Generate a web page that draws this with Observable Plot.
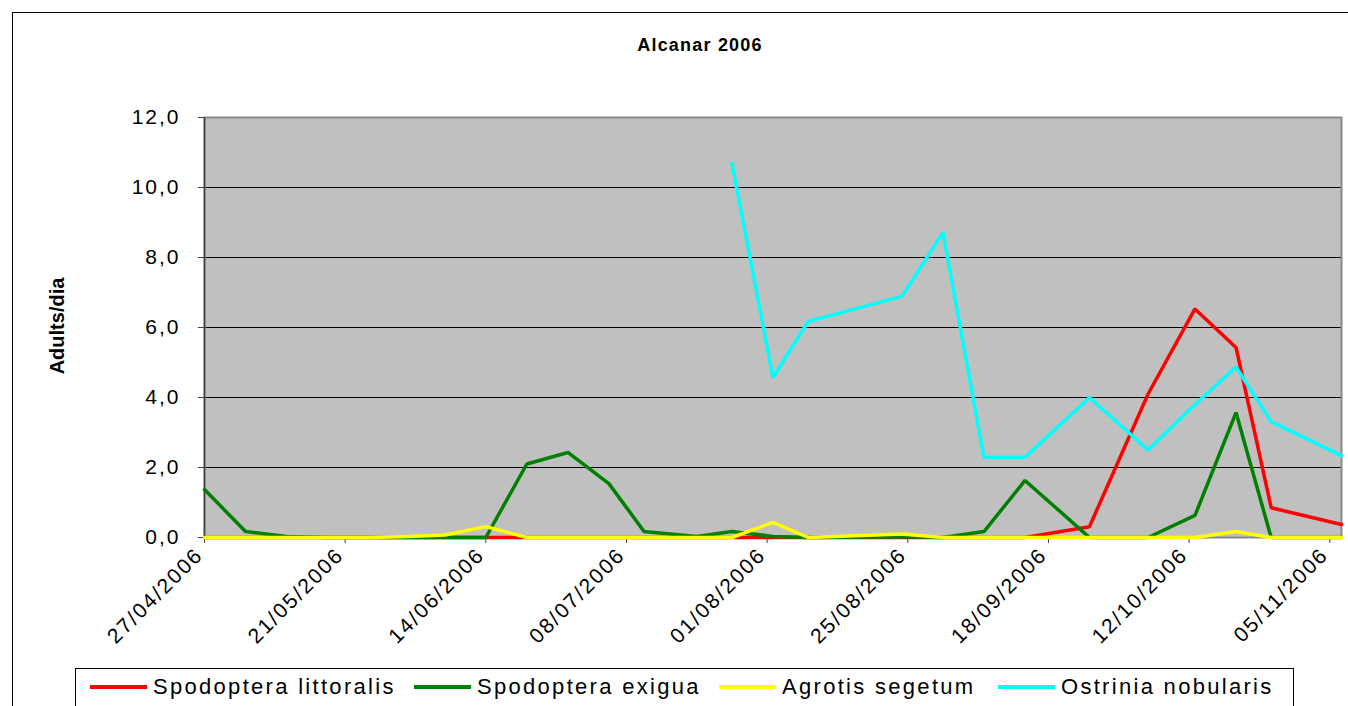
<!DOCTYPE html>
<html><head><meta charset="utf-8">
<script src="https://cdn.jsdelivr.net/npm/d3@7"></script>
<script src="https://cdn.jsdelivr.net/npm/@observablehq/plot@0.6"></script>
<style>
body{margin:0;background:#fff;}
#wrap{position:relative;width:1348px;height:706px;overflow:hidden;font-family:"Liberation Sans",Arial,sans-serif;color:#000;}
#frame{position:absolute;left:12px;top:12px;width:1400px;height:800px;border:1.5px solid #000;}
#title{position:absolute;left:550px;width:300px;top:35px;text-align:center;font-size:18px;font-weight:bold;letter-spacing:1.2px;}
#ylab{position:absolute;left:57px;top:326px;transform:translate(-50%,-50%) rotate(-90deg);font-size:20px;font-weight:bold;white-space:nowrap;}
#chart{position:absolute;left:0;top:0;}
#chart svg text{letter-spacing:2px;}
#legend{position:absolute;left:75px;top:668px;width:1217px;height:80px;border:1px solid #000;background:#fff;}
.item{position:absolute;top:6px;display:flex;align-items:center;height:24px;}
.sw{width:57px;height:4px;margin-right:6px;}
.lt{font-size:22px;letter-spacing:2.3px;white-space:nowrap;}
</style>
</head><body>
<div id="wrap">
  <div id="frame"></div>
  <div id="title">Alcanar 2006</div>
  <div id="chart"></div>
  <div id="ylab">Adults/dia</div>
  <div id="legend"></div>
</div>
<script>
const seriesNames = ["Spodoptera littoralis","Spodoptera exigua","Agrotis segetum","Ostrinia nobularis"];
const seriesColors = ["#FF0000","#008000","#FFFF00","#00FFFF"];
const dates = ["2006-04-27","2006-05-04","2006-05-11","2006-05-18","2006-05-25","2006-06-01","2006-06-07","2006-06-14","2006-06-21","2006-06-28","2006-07-05","2006-07-11","2006-07-20","2006-07-26","2006-08-02","2006-08-08","2006-08-24","2006-08-31","2006-09-07","2006-09-14","2006-09-25","2006-10-05","2006-10-13","2006-10-20","2006-10-26","2006-11-07"];
const littoralis = [0,0,0,0,0,0,0,0,0,0,0,0,0,0,0,0,0,0,0,0,0.31,4.1,6.53,5.43,0.85,0.37];
const exigua = [1.37,0.17,0.03,0,0,0,0,0,2.1,2.43,1.54,0.17,0.03,0.17,0.03,0,0.02,0,0.17,1.63,0,0,0.63,3.57,0,0];
const segetum = [0,0,0,0,0,0.03,0.07,0.31,0,0,0,0,0,0,0.43,0,0.1,0,0,0,0,0,0,0.17,0,0];
const nobularis = [null,null,null,null,null,null,null,null,null,null,null,null,null,10.69,4.57,6.17,6.89,8.71,2.29,2.29,4.0,2.5,3.8,4.87,3.31,2.34];
const xTickDates = ["2006-04-27","2006-05-21","2006-06-14","2006-07-08","2006-08-01","2006-08-25","2006-09-18","2006-10-12","2006-11-05"];
const yTicks = [0,2,4,6,8,10,12];

const seriesValues = [littoralis, exigua, segetum, nobularis];
const rows = [];
seriesNames.forEach((name, i) => {
  dates.forEach((d, j) => {
    rows.push({series: name, date: new Date(d), value: seriesValues[i][j]});
  });
});

const fmtDate = d3.utcFormat("%d/%m/%Y");
const fmtY = v => v.toFixed(1).replace(".", ",");
const x0 = new Date(dates[0]);
const xTicks = xTickDates.map(d => new Date(d));

const chart = Plot.plot({
  width: 1348,
  height: 660,
  marginLeft: 204,
  marginRight: 7,
  marginTop: 117,
  marginBottom: 123,
  style: {fontFamily: "'Liberation Sans', Arial, sans-serif", fontSize: "21px", color: "#000", background: "transparent", overflow: "visible"},
  x: {type: "utc", domain: [x0, new Date(dates[dates.length - 1])]},
  y: {domain: [0, 12]},
  color: {domain: seriesNames, range: seriesColors},
  marks: [
    Plot.frame({fill: "#C0C0C0", stroke: null}),
    Plot.ruleY(yTicks.filter(v => v > 0 && v < 12), {stroke: "#000", strokeWidth: 1}),
    Plot.frame({stroke: "#8a8a8a", strokeWidth: 2}),
    Plot.ruleX([x0], {stroke: "#404040", strokeWidth: 1.5}),
    Plot.axisY({ticks: yTicks, tickFormat: fmtY, tickSize: 6, tickPadding: 18, label: null, stroke: "#404040"}),
    Plot.axisX({ticks: xTicks, tickFormat: () => "", tickSize: 6, label: null, stroke: "#404040"}),
    Plot.axisX({ticks: xTicks, tickFormat: fmtDate, tickRotate: -45, tickSize: 0, tickPadding: 14, dx: -5, label: null}),
    Plot.line(rows, {x: "date", y: "value", z: "series", stroke: "series", strokeWidth: 3.5, strokeLinejoin: "miter"})
  ]
});
document.getElementById("chart").appendChild(chart);

const legendLefts = [14, 338, 643, 922];
const legend = document.getElementById("legend");
seriesNames.forEach((name, i) => {
  const it = document.createElement("div");
  it.className = "item";
  it.style.left = legendLefts[i] + "px";
  it.innerHTML = `<div class="sw" style="background:${seriesColors[i]}"></div><span class="lt">${name}</span>`;
  legend.appendChild(it);
});
</script>
</body></html>
